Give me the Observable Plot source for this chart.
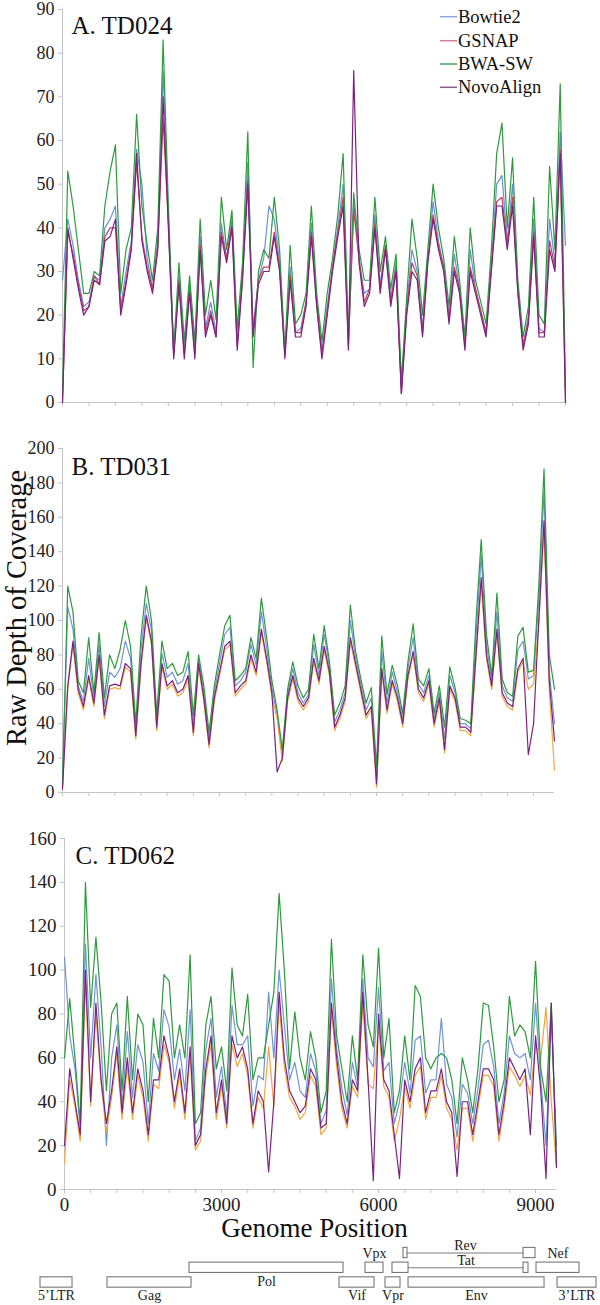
<!DOCTYPE html>
<html><head><meta charset="utf-8">
<script src="https://cdn.jsdelivr.net/npm/d3@7"></script>
<script src="https://cdn.jsdelivr.net/npm/@observablehq/plot@0.6"></script>
<style>
html,body{margin:0;padding:0;background:#fff;}
#chart{position:relative;width:600px;height:1305px;overflow:hidden;font-family:Liberation Serif, Times New Roman, serif;color:#222;}
#chart > svg{position:absolute;left:0;}
#chart svg text{font-family:Liberation Serif, Times New Roman, serif;}
</style></head><body><div id="chart"></div>
<script>
// ---------------- data ----------------
const aligners = ["Bowtie2","GSNAP","BWA-SW","NovoAlign"];
const panelTitles = ["A. TD024","B. TD031","C. TD062"];
const yTicksA = [0,10,20,30,40,50,60,70,80,90];
const yTicksB = [0,20,40,60,80,100,120,140,160,180,200];
const yTicksC = [0,20,40,60,80,100,120,140,160];
const xTickLabels = [0,3000,6000,9000];
const posA = d3.range(0, 9501, 100);   // sampling grid (bp)
const posB = d3.range(0, 9401, 100);
const posC = d3.range(0, 9401, 100);

// Panel A: TD024
const bowtie2A = [28,42,36,28,22,23,29,28,40,42, 45,22,30,37,58,50,33,26,37,76, 42,11,29,12,27,12,38,17,23,16, 41,33,42,14,30,55,17,28,33,45, 42,32,11,31,16,17,23,41,23,12, 22,31,40,50,13,46,33,25,26,43, 27,36,24,32,3,22,35,30,17,33, 46,37,31,20,34,26,13,35,26,21, 16,32,50,52,37,50,26,13,20,42, 17,16,42,32,62,36];
const gsnapA   = [0,39,34,27,21,22,29,27,38,40, 40,21,28,36,55,38,31,26,36,65, 41,11,28,11,26,11,36,16,21,15, 39,33,41,13,29,51,16,28,31,31, 39,31,11,29,16,16,23,39,23,11, 21,31,39,47,13,44,33,23,26,41, 26,36,23,31,2,21,32,29,16,33, 43,36,31,19,31,26,13,31,26,21, 16,31,46,47,36,47,26,13,19,39, 16,16,37,31,58,0];
const bwaswA   = [2,53,45,35,25,25,30,29,45,53, 59,25,35,40,66,45,36,28,40,83, 45,12,32,14,29,14,42,20,28,19, 47,35,44,17,32,62,8,30,35,33, 47,35,12,36,18,20,25,45,25,14, 25,33,43,57,15,48,35,28,28,47, 30,38,26,34,5,24,42,33,20,35, 50,40,33,22,38,28,15,40,28,23, 18,35,57,64,40,56,28,15,22,47, 20,18,54,35,73,3];
const novoA    = [0,40,33,26,20,22,28,27,37,38, 42,20,27,35,57,37,30,25,35,70, 40,10,27,10,25,10,35,15,20,15, 38,32,40,12,28,50,15,27,30,30, 38,30,10,28,15,15,22,38,22,10, 20,30,38,45,12,76,32,22,25,40, 25,35,22,30,2,20,30,28,15,32, 42,35,30,18,30,25,12,30,25,20, 15,30,45,45,35,45,25,12,18,38, 15,15,35,30,57,0];

// Panel B: TD031
const bowtie2B = [4,108,95,62,53,78,55,86,50,70, 67,72,88,78,36,83,110,94,41,81, 67,70,63,65,75,40,78,58,31,58, 75,92,96,62,65,70,86,74,105,84, 61,45,22,57,72,58,52,57,86,68, 92,73,41,48,58,100,78,63,48,55, 10,82,52,70,58,43,72,90,63,58, 68,43,58,31,68,58,40,40,37,90, 138,86,65,105,62,55,53,83,88,66, 68,112,175,70,40];
const gsnapB   = [3,60,86,58,48,66,50,78,43,60, 61,60,73,70,31,73,101,86,36,73, 60,63,56,58,66,33,73,53,26,53, 68,83,86,56,60,63,78,68,93,76, 56,43,18,53,66,53,48,53,76,63, 83,68,36,43,53,88,73,58,43,48, 3,70,46,63,53,38,66,80,58,53, 63,38,53,23,60,53,36,36,33,78, 122,78,60,93,56,50,48,70,76,60, 63,98,155,60,13];
const bwaswB   = [5,120,105,65,58,90,58,93,55,80, 72,83,100,85,40,91,120,100,45,88, 72,75,68,70,82,45,80,62,35,62, 80,97,103,65,68,72,90,78,113,90, 65,48,25,60,76,62,55,60,92,72, 97,76,45,52,62,109,82,66,52,61, 15,91,57,74,62,46,76,98,66,62, 72,46,62,38,73,61,43,42,40,100, 147,92,68,116,66,58,56,91,96,70, 71,120,188,80,60];
const novoB    = [2,62,88,60,50,68,52,80,45,62, 63,62,75,72,33,75,103,88,38,75, 62,65,58,60,68,35,75,55,28,55, 70,85,88,58,62,65,80,70,95,78, 58,12,20,55,68,55,50,55,78,65, 85,70,38,45,55,90,75,60,45,50, 5,72,48,65,55,40,68,82,60,55, 65,40,55,25,62,55,38,38,35,80, 125,80,62,95,58,52,50,72,78,22, 40,100,158,65,30];

// Panel C: TD062
const bowtie2C = [106,70,55,28,112,60,98,65,20,60, 75,38,72,42,66,58,30,62,54,82, 74,50,64,45,82,22,28,64,78,42, 56,34,84,66,66,70,38,52,50,90, 60,100,75,50,58,45,42,62,54,30, 36,96,64,46,34,58,46,96,60,56, 92,54,58,30,40,58,44,68,70,44, 50,50,78,48,42,24,48,44,30,46, 66,68,56,30,44,70,62,60,62,50, 85,50,20,80,20];
const gsnapC   = [12,50,38,22,95,38,80,48,26,42, 62,32,56,32,52,42,22,48,46,66, 58,37,52,32,62,18,22,52,66,32, 47,28,66,56,62,52,28,42,37,65, 38,85,56,42,38,32,35,52,47,25, 28,82,56,37,28,47,42,85,48,46, 75,47,42,22,32,47,37,52,56,32, 42,42,52,37,32,18,37,37,22,37, 52,52,47,22,37,56,52,47,52,43, 66,60,83,40,10];
const bwaswC   = [60,87,60,30,140,83,115,85,45,80, 85,45,88,50,80,75,40,78,60,98, 95,60,75,60,107,30,35,75,88,55, 65,45,101,75,70,89,50,60,60,75, 90,135,100,55,81,60,50,72,60,35, 45,114,70,55,40,70,50,107,75,65, 110,60,78,35,45,70,50,93,88,60, 55,60,62,60,50,30,60,50,35,55, 85,84,65,40,50,88,70,75,72,60, 104,55,40,85,12];
const novoC    = [20,55,40,25,100,40,85,50,30,45, 65,35,60,35,55,45,25,50,50,70, 60,40,55,35,65,20,25,55,70,35, 50,30,70,60,65,55,30,45,40,8, 40,90,60,45,40,35,38,55,50,28, 30,85,60,40,30,50,45,90,50,4, 80,50,45,25,5,50,40,55,60,35, 45,45,55,40,35,6,40,40,25,40, 55,55,50,25,40,60,55,50,55,25, 70,45,5,85,10];

// Genome map (HIV-2 genes, bp)
const exonGene  = ["5’LTR","Gag","Pol","Vif","Vpx","Vpr","Tat","Tat","Rev","Rev","Env","Nef","3’LTR"];
const exonStart = [0,1253,2787,5593,6079,6453,6584,9035,6790,9035,6884,9278,9671];
const exonEnd   = [599,2825,5668,6248,6416,6734,6884,9128,6865,9259,9428,10082,10400];
const exonTrack = [2,2,1,2,1,2,1,1,0,0,2,1,2];

// ---------------- drawing ----------------
const FONT = "Liberation Serif, Times New Roman, serif";
const AXIS = "#c4c4c8";
const root = document.getElementById("chart");

function panel(cfg) {
  const rows = [];
  cfg.series.forEach((vals, k) => vals.forEach((v, i) => rows.push({aligner: aligners[k], pos: cfg.pos[i], depth: v})));
  const marks = [
    Plot.ruleX([0], {stroke: AXIS}),
    Plot.ruleY([0], {stroke: AXIS}),
    Plot.axisY({ticks: cfg.yTicks, tickSize: 4, tickPadding: 4, fontSize: cfg.tickFont, fontFamily: FONT, stroke: AXIS, fill: "#222", label: null, tickFormat: d => String(d)}),
    Plot.axisX({ticks: d3.range(0, cfg.xMax + 1, 500), tickSize: 4, tickFormat: () => "", stroke: AXIS, label: null}),
    Plot.line(rows, {x: "pos", y: "depth", z: "aligner", stroke: "aligner", strokeWidth: 1.2, strokeLinejoin: "round"}),
    Plot.text([cfg.title], {frameAnchor: "top-left", dx: cfg.titleDx, dy: cfg.titleDy, lineAnchor: "top", textAnchor: "start", fontSize: 25, fontFamily: FONT, fill: "#111"})
  ];
  if (cfg.xLabels) {
    marks.push(Plot.axisX({ticks: xTickLabels, tickSize: 0, tickPadding: 8, fontSize: 19, fontFamily: FONT, fill: "#222", label: null, tickFormat: d => String(d)}));
    marks.push(Plot.text(["Genome Position"], {frameAnchor: "bottom", dx: 4, dy: 38.5, lineAnchor: "middle", fontSize: 27, fontFamily: FONT, fill: "#111"}));
  }
  const svg = Plot.plot({
    width: 600, height: cfg.height,
    marginTop: cfg.marginTop, marginBottom: cfg.marginBottom, marginLeft: cfg.marginLeft, marginRight: cfg.marginRight,
    style: {fontFamily: FONT, color: "#222", background: "transparent", overflow: "visible"},
    x: {domain: [0, cfg.xMax], axis: null},
    y: {domain: [0, cfg.yMax], axis: null},
    color: {domain: aligners, range: cfg.colors},
    marks
  });
  svg.style.top = cfg.top + "px";
  root.appendChild(svg);
}

const colorsA = ["#6a90d6", "#c83a62", "#2e9a3e", "#7a2380"];
const colorsBC = ["#6f94d8", "#f2a541", "#2e9a3e", "#7a2380"];

panel({top: 0, height: 422, marginTop: 9, marginBottom: 20, marginLeft: 62, marginRight: 35, xMax: 9500, yMax: 90,
  yTicks: yTicksA, tickFont: 18, pos: posA, series: [bowtie2A, gsnapA, bwaswA, novoA], colors: colorsA,
  title: panelTitles[0], titleDx: 9, titleDy: 6.6});
panel({top: 440, height: 360, marginTop: 8, marginBottom: 8, marginLeft: 62, marginRight: 46, xMax: 9400, yMax: 200,
  yTicks: yTicksB, tickFont: 18, pos: posB, series: [bowtie2B, gsnapB, bwaswB, novoB], colors: colorsBC,
  title: panelTitles[1], titleDx: 9, titleDy: 9.2});
panel({top: 830, height: 415, marginTop: 8, marginBottom: 56, marginLeft: 64, marginRight: 44, xMax: 9400, yMax: 160,
  yTicks: yTicksC, tickFont: 19, pos: posC, series: [bowtie2C, gsnapC, bwaswC, novoC], colors: colorsBC,
  title: panelTitles[2], titleDx: 11, titleDy: 7.6, xLabels: true});

// genome map
const exons = exonGene.map((g, i) => ({gene: g, start: exonStart[i], end: exonEnd[i], track: exonTrack[i]}));
const genes = Array.from(d3.group(exons, d => d.gene), ([gene, ex]) => ({gene, ex}));
const connectors = genes.filter(g => g.ex.length > 1).map(g => ({from: g.ex[0].end, to: g.ex[g.ex.length - 1].start, track: g.ex[0].track}));
const aboveSingle = new Set(["Vpx", "Nef"]);
const labels = genes.map(g => {
  const split = g.ex.length > 1;
  const x = split ? (g.ex[0].end + g.ex[g.ex.length - 1].start) / 2 : (g.ex[0].start + g.ex[0].end) / 2;
  const dy = split ? -7 : aboveSingle.has(g.gene) ? -14 : 13.5;
  return {gene: g.gene, x, track: g.ex[0].track, dy};
});
const mapSvg = Plot.plot({
  width: 600, height: 67, marginTop: 0, marginBottom: 0, marginLeft: 40, marginRight: 4,
  style: {fontFamily: FONT, color: "#222", background: "transparent", overflow: "visible"},
  x: {domain: [0, 10400], axis: null},
  y: {domain: [0, 2], range: [14.5, 44], axis: null},
  marks: [
    Plot.ruleY(connectors, {x1: "from", x2: "to", y: "track", stroke: "#7a7a7a"}),
    Plot.rect(exons, {x1: "start", x2: "end", y1: d => d.track - 0.35, y2: d => d.track + 0.35, fill: "#fff", stroke: "#6a6a6a", strokeWidth: 1}),
    ...[-14, -7, 13.5].map(off => Plot.text(labels.filter(l => l.dy === off), {x: "x", y: "track", text: "gene", dy: off, fontSize: 14, fontFamily: FONT, fill: "#222"}))
  ]
});
mapSvg.style.top = "1238px";
root.appendChild(mapSvg);

// overlay: y-axis title and legend
const legendColors = ["#8ea6dc", "#d47f9a", "#4aa35a", "#8d5a8e"];
const ov = d3.select(root).append("svg").attr("width", 600).attr("height", 1305)
  .style("top", "0px").style("pointer-events", "none").attr("font-family", FONT);
ov.append("text").attr("transform", "translate(26,608) rotate(-90)").attr("text-anchor", "middle")
  .attr("font-size", 28.5).attr("font-family", FONT).attr("fill", "#111").text("Raw Depth of Coverage");
const lg = ov.append("g");
aligners.forEach((name, i) => {
  const cy = [16.7, 40.7, 64, 87.3][i];
  lg.append("line").attr("x1", 440).attr("x2", 457).attr("y1", cy).attr("y2", cy)
    .attr("stroke", legendColors[i]).attr("stroke-width", 1.5);
  lg.append("text").attr("x", 458).attr("y", cy + 6.1).attr("font-size", 18.5).attr("font-family", FONT).attr("fill", "#111").text(name);
});
</script></body></html>
